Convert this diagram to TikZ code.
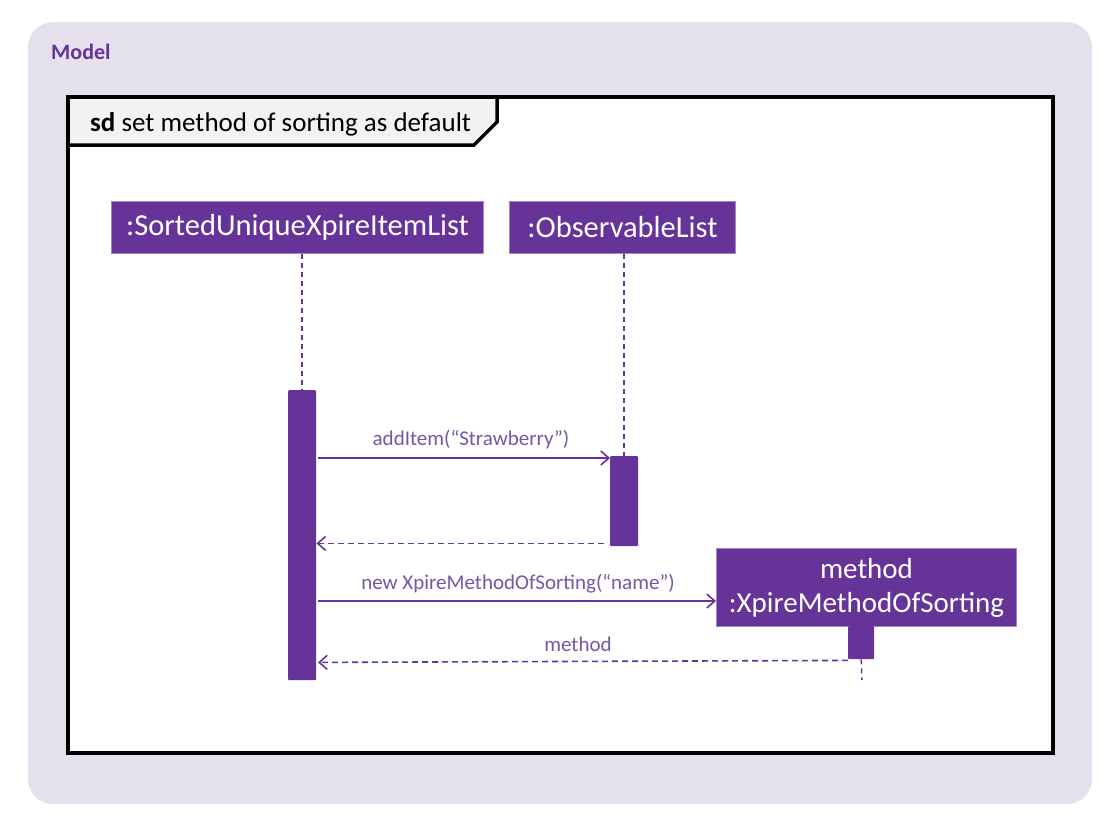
\documentclass[tikz,border=0pt]{standalone}
\usepackage{fontspec}
\setmainfont{Carlito}
\usetikzlibrary{arrows.meta}
\definecolor{bgc}{HTML}{E4E0EC}
\definecolor{purp}{HTML}{663399}
\definecolor{lbl}{HTML}{7558A5}
\definecolor{tabc}{HTML}{F2F2F2}
\tikzset{
  obj/.style={fill=purp, draw=purp!60!white, line width=1pt, text=white, font=\fontsize{30.5}{34}\selectfont, inner sep=0pt, anchor=north west},
  act/.style={fill=purp, draw=none, rounded corners=1pt},
  life/.style={draw=purp, dashed, dash pattern=on 5pt off 4pt, line width=1.5pt},
  msg/.style={draw=purp, line width=1.6pt, -{Straight Barb[length=8pt,width=14pt,line width=1.6pt]}},
  ret/.style={msg, dashed, dash pattern=on 6pt off 4pt},
  lab/.style={text=lbl, font=\fontsize{21}{24}\selectfont, inner sep=0pt}
}
\begin{document}
\begin{tikzpicture}[x=1pt,y=-1pt]
\useasboundingbox (0,0) rectangle (1120,828);
\fill[bgc, rounded corners=25pt] (28,22) rectangle (1092,804);
\node[anchor=west, text=purp, font=\fontsize{22}{24}\selectfont\bfseries, inner sep=0pt] (model) at (51,52) {Model};
\draw[fill=white, line width=3.5pt] (68,97) rectangle (1053,753);
\draw[fill=tabc, line width=3.5pt, line join=miter] (68,97) -- (497,97) -- (497,122) -- (474,145) -- (68,145) -- cycle;
\node[anchor=west, inner sep=0pt, font=\fontsize{27}{30}\selectfont] (title) at (90,124) {\textbf{sd} set method of sorting as default};
% objects
\node[obj, minimum width=372pt, minimum height=52pt] (o1) at (111,201) {:SortedUniqueXpireItemList};
\node[obj, minimum width=226pt, minimum height=52pt] (o2) at (509,201) {:ObservableList};
% activation bars
\node[act, anchor=north west, minimum width=28pt, minimum height=290pt, inner sep=0pt] (a1) at (288,390) {};
\node[act, anchor=north west, minimum width=28pt, minimum height=90pt, inner sep=0pt] (a2) at (610,456) {};
\node[obj, minimum width=300pt, minimum height=78pt, align=center, font=\fontsize{29}{34}\selectfont] (o3) at (716,548) {method\\:XpireMethodOfSorting};
\node[act, anchor=north west, minimum width=26pt, minimum height=33pt, inner sep=0pt] (a3) at (848,626) {};
\coordinate (l3end) at (862,680);
% lifelines
\draw[life] (o1.south -| a1.north) -- (a1.north);
\draw[life] (o2.south -| a2.north) -- (a2.north);
\draw[life] (a3.south) -- (l3end);
% messages
\draw[msg] ([yshift=-68pt]a1.north east) ++(2,0) coordinate (m1s) -- (m1s -| a2.west);
\node[lab] (l1) at (471,440) {addItem(“Strawberry”)};
\draw[ret] ([xshift=-6pt]a2.south west) ++(0,-3) coordinate (r1s) -- (r1s -| a1.east);
\draw[msg] ([yshift=-211pt]a1.north east) ++(2,0) coordinate (m2s) -- (m2s -| o3.west);
\node[lab] (l2) at (518,584) {new XpireMethodOfSorting(“name”)};
\draw[ret] ([yshift=-1pt]a3.south west) coordinate (r2s) -- ++(-530,2) coordinate (r2e);
\node[lab] (l3) at (578,644) {method};
\end{tikzpicture}
\end{document}
